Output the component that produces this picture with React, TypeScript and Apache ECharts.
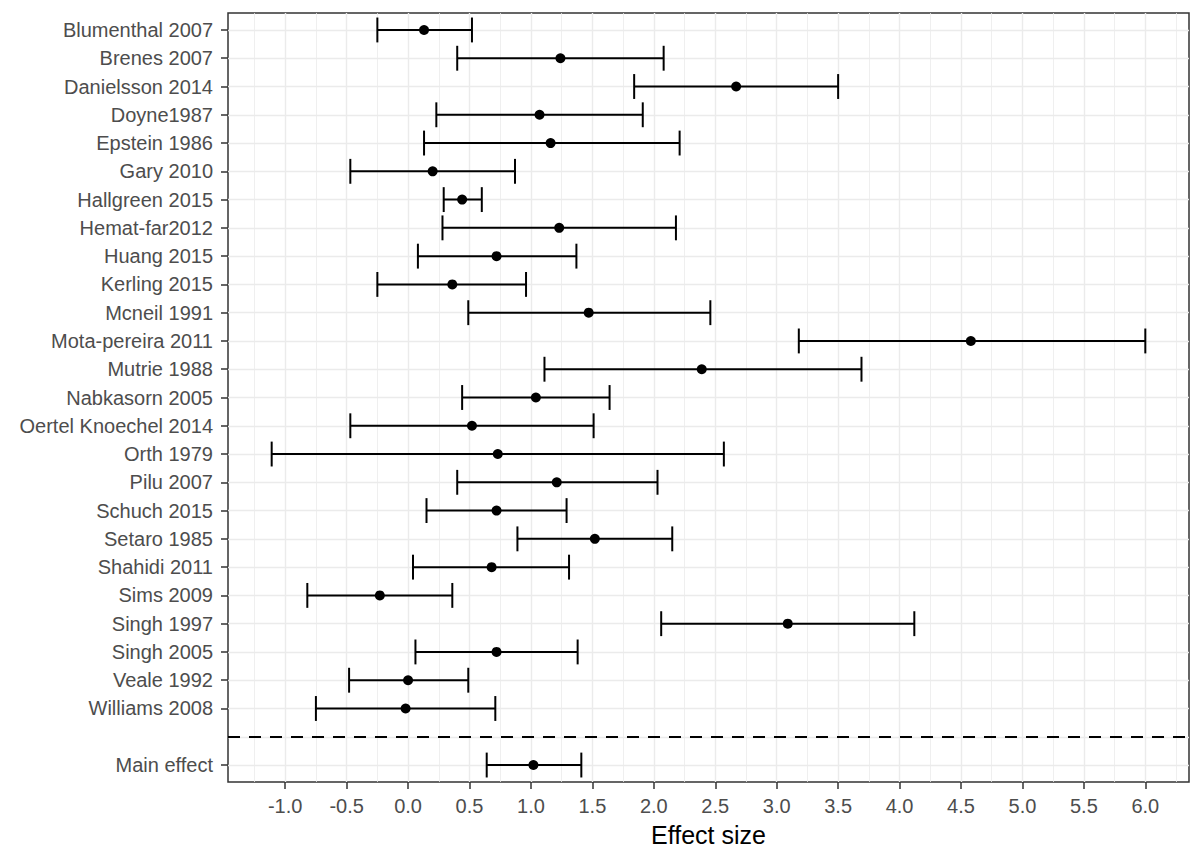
import React, { useEffect, useRef } from "react";
import * as echarts from "echarts";

const studies = [
  "Blumenthal 2007",
  "Brenes 2007",
  "Danielsson 2014",
  "Doyne1987",
  "Epstein 1986",
  "Gary 2010",
  "Hallgreen 2015",
  "Hemat-far2012",
  "Huang 2015",
  "Kerling 2015",
  "Mcneil 1991",
  "Mota-pereira 2011",
  "Mutrie 1988",
  "Nabkasorn 2005",
  "Oertel Knoechel 2014",
  "Orth 1979",
  "Pilu 2007",
  "Schuch 2015",
  "Setaro 1985",
  "Shahidi 2011",
  "Sims 2009",
  "Singh 1997",
  "Singh 2005",
  "Veale 1992",
  "Williams 2008",
];
const lower = [
  -0.25, 0.4, 1.84, 0.23, 0.13, -0.47, 0.29, 0.28, 0.08, -0.25, 0.49, 3.18, 1.11,
  0.44, -0.47, -1.11, 0.4, 0.15, 0.89, 0.04, -0.82, 2.06, 0.06, -0.48, -0.75,
];
const effect = [
  0.13, 1.24, 2.67, 1.07, 1.16, 0.2, 0.44, 1.23, 0.72, 0.36, 1.47, 4.58, 2.39,
  1.04, 0.52, 0.73, 1.21, 0.72, 1.52, 0.68, -0.23, 3.09, 0.72, 0.0, -0.02,
];
const upper = [
  0.52, 2.08, 3.5, 1.91, 2.21, 0.87, 0.6, 2.18, 1.37, 0.96, 2.46, 6.0, 3.69,
  1.64, 1.51, 2.57, 2.03, 1.29, 2.15, 1.31, 0.36, 4.12, 1.38, 0.49, 0.71,
];
const mainLabel = "Main effect";
const mainLower = 0.64;
const mainEffect = 1.02;
const mainUpper = 1.41;
const separatorRow = 26;
const mainRow = 27;
const xTicks = [-1.0, -0.5, 0.0, 0.5, 1.0, 1.5, 2.0, 2.5, 3.0, 3.5, 4.0, 4.5, 5.0, 5.5, 6.0];
const xMinorTicks = [-1.25, -0.75, -0.25, 0.25, 0.75, 1.25, 1.75, 2.25, 2.75, 3.25, 3.75, 4.25, 4.75, 5.25, 5.75, 6.25];
const xTitle = "Effect size";

const FONT = "'Liberation Sans', Arial, Helvetica, sans-serif";

export default function App() {
  const ref = useRef<HTMLDivElement>(null);
  useEffect(() => {
    document.body.style.margin = "0";
    const chart = echarts.init(ref.current!, null, { renderer: "svg" });

    const labels = [...studies, mainLabel];
    const lows = [...lower, mainLower];
    const means = [...effect, mainEffect];
    const highs = [...upper, mainUpper];
    const rows = studies.map((_, i) => i + 1).concat(mainRow);
    const gridRows = Array.from({ length: mainRow }, (_, i) => i + 1);

    const dataMin = Math.min(...lows);
    const dataMax = Math.max(...highs);
    const pad = (dataMax - dataMin) * 0.05;

    const gridColor = "#EBEBEB";
    const markData: any[] = [
      ...xMinorTicks.map((v) => ({ xAxis: v, lineStyle: { color: gridColor, width: 0.8, type: "solid" } })),
      ...xTicks.map((v) => ({ xAxis: v, lineStyle: { color: gridColor, width: 1.4, type: "solid" } })),
      ...gridRows.map((v) => ({ yAxis: v, lineStyle: { color: gridColor, width: 1.4, type: "solid" } })),
    ];

    const option: any = {
      animation: false,
      grid: {
        left: 228,
        right: 11,
        top: 13,
        bottom: 75,
        show: true,
        backgroundColor: "#ffffff",
        borderColor: "#333333",
        borderWidth: 1.5,
        containLabel: false,
        outerBoundsMode: "none",
      },
      xAxis: {
        type: "value",
        min: dataMin - pad,
        max: dataMax + pad,
        axisLine: { show: false, onZero: false },
        axisTick: {
          show: true,
          length: 7,
          customValues: xTicks,
          lineStyle: { color: "#333333", width: 1.5 },
        },
        axisLabel: {
          show: true,
          customValues: xTicks,
          formatter: (v: number) => v.toFixed(1),
          color: "#4D4D4D",
          fontSize: 20,
          fontFamily: FONT,
          margin: 14,
        },
        splitLine: { show: false },
        minorSplitLine: { show: false },
        name: xTitle,
        nameLocation: "middle",
        nameGap: 40,
        nameTextStyle: { color: "#000000", fontSize: 25, fontFamily: FONT },
      },
      yAxis: {
        type: "value",
        inverse: true,
        min: 0.4,
        max: 27.6,
        axisLine: { show: false, onZero: false },
        axisTick: {
          show: true,
          length: 7,
          customValues: rows,
          lineStyle: { color: "#333333", width: 1.5 },
        },
        axisLabel: {
          show: true,
          customValues: rows,
          formatter: (v: number) => {
            const idx = rows.indexOf(Math.round(v));
            return idx >= 0 ? labels[idx] : "";
          },
          color: "#4D4D4D",
          fontSize: 20,
          fontFamily: FONT,
          margin: 15,
        },
        splitLine: { show: false },
      },
      series: [
        {
          type: "line",
          data: [],
          z: 1,
          silent: true,
          symbol: "none",
          markLine: {
            silent: true,
            animation: false,
            z: 1,
            symbol: ["none", "none"],
            label: { show: false },
            emphasis: { disabled: true },
            data: markData,
          },
        },
        {
          type: "line",
          data: [],
          z: 2,
          silent: true,
          symbol: "none",
          markLine: {
            silent: true,
            animation: false,
            z: 2,
            symbol: ["none", "none"],
            label: { show: false },
            emphasis: { disabled: true },
            data: [{ yAxis: separatorRow, lineStyle: { color: "#000000", width: 2, type: [12, 9] } }],
          },
        },
        {
          type: "custom",
          z: 3,
          silent: true,
          encode: { x: [0, 1], y: 2 },
          data: rows.map((r, i) => [lows[i], highs[i], r]),
          renderItem: (params: any, api: any) => {
            const lo = api.value(0);
            const hi = api.value(1);
            const y = api.value(2);
            const pLo = api.coord([lo, y]);
            const pHi = api.coord([hi, y]);
            const half = Math.abs(api.size([0, 1])[1]) * 0.44;
            const style = { stroke: "#000000", lineWidth: 2 };
            return {
              type: "group",
              children: [
                { type: "line", shape: { x1: pLo[0], y1: pLo[1], x2: pHi[0], y2: pHi[1] }, style },
                { type: "line", shape: { x1: pLo[0], y1: pLo[1] - half, x2: pLo[0], y2: pLo[1] + half }, style },
                { type: "line", shape: { x1: pHi[0], y1: pHi[1] - half, x2: pHi[0], y2: pHi[1] + half }, style },
              ],
            };
          },
        },
        {
          type: "scatter",
          z: 4,
          silent: true,
          symbol: "circle",
          symbolSize: 10,
          itemStyle: { color: "#000000", opacity: 1 },
          data: rows.map((r, i) => [means[i], r]),
        },
      ],
    };

    chart.setOption(option);
    return () => chart.dispose();
  }, []);

  return <div ref={ref} style={{ width: 1200, height: 857 }} />;
}
